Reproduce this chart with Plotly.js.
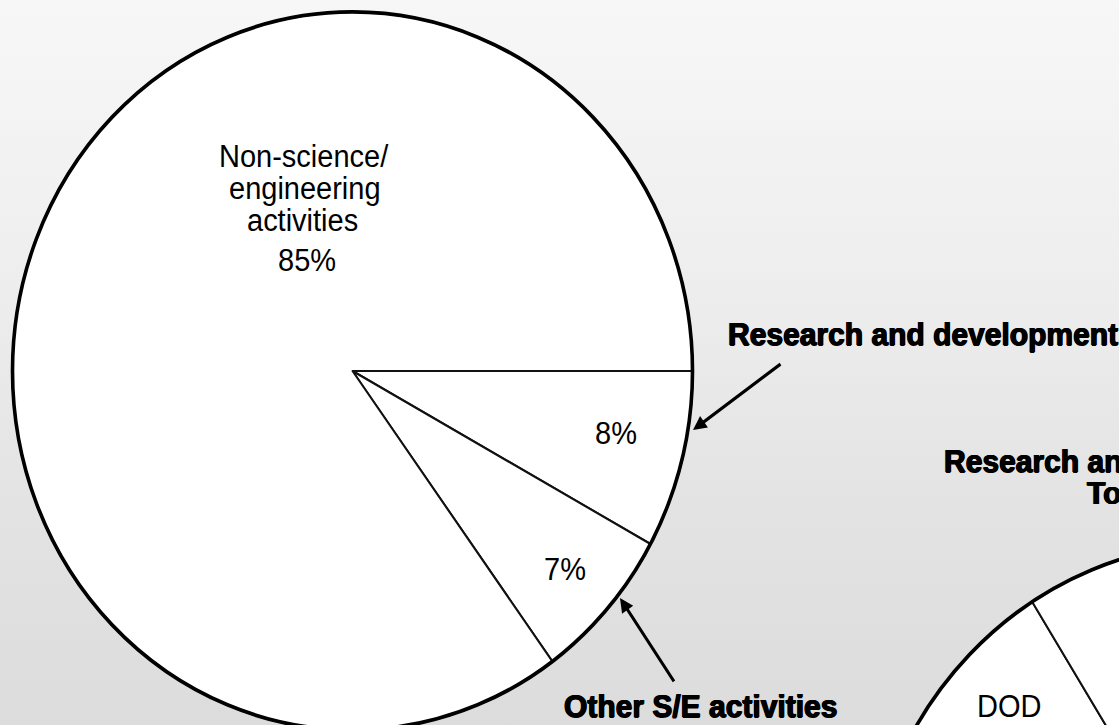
<!DOCTYPE html>
<html>
<head>
<meta charset="utf-8">
<script src="https://cdn.plot.ly/plotly-3.0.1.min.js"></script>
<style>
html, body { margin:0; padding:0; width:1119px; height:725px; overflow:hidden;
  background: linear-gradient(to bottom, #f7f7f7 0%, #efefef 35%, #e3e3e3 70%, #dcdcdc 100%); }
#chart { width:1600px; height:1250px; transform: scaleY(1.056); transform-origin: 0 0; }
</style>
</head>
<body>
<div id="chart"></div>
<script>
// ---- data ----
const seCategories = ["Research and development", "Other S/E activities", "Non-science/engineering activities"];
const seValues = [8, 7, 85];
const sePctText = ["8%", "7%", "85%"];
const nonSciLines = ["Non-science/", "engineering", "activities"];
const calloutLabels = ["Research and development", "Other S/E activities"];
const rdCategories = ["DOD", "All other agencies"];
const rdValues = [50, 50];
const rdTitleLines = ["Research and development:", "Total"];

// ---- geometry helpers (layout only) ----
const W = 1600, H = 1250, S = 1.056;
const px = x => x / W;
const py = yScreen => 1 - (yScreen / S) / H;
function dom(cx, cyScreen, r) {
  const cy = cyScreen / S;
  return { x: [(cx - r) / W, (cx + r) / W], y: [1 - (cy + r) / H, 1 - (cy - r) / H] };
}
const pie1Dom = dom(352.5, 371, 340);
const pie2Dom = dom(1224, 923.5, 360);
const rdBoundaryDeg = -32.2;
const sum = a => a.reduce((p, c) => p + c, 0);
const rdRotation = 360 + rdBoundaryDeg - 360 * rdValues[0] / sum(rdValues);

const sliceLine = { color: "#111", width: 2 };
const traces = [
  { type: "pie", labels: seCategories, values: seValues, sort: false, direction: "clockwise",
    rotation: 90, domain: pie1Dom, textinfo: "none", hoverinfo: "label+percent",
    marker: { colors: seCategories.map(() => "#ffffff"), line: sliceLine }, showlegend: false },
  { type: "pie", labels: ["All activities"], values: [sum(seValues)], sort: false, domain: pie1Dom,
    textinfo: "none", hoverinfo: "skip", marker: { colors: ["rgba(0,0,0,0)"], line: { color: "#000", width: 3.6 } },
    showlegend: false },
  { type: "pie", labels: rdCategories, values: rdValues, sort: false, direction: "clockwise",
    rotation: rdRotation, domain: pie2Dom, textinfo: "none", hoverinfo: "label+percent",
    marker: { colors: rdCategories.map(() => "#ffffff"), line: sliceLine }, showlegend: false },
  { type: "pie", labels: ["Total R&D"], values: [sum(rdValues)], sort: false, domain: pie2Dom,
    textinfo: "none", hoverinfo: "skip", marker: { colors: ["rgba(0,0,0,0)"], line: { color: "#000", width: 3.6 } },
    showlegend: false }
];

const reg = size => ({ family: "Liberation Sans, Arial, Helvetica, sans-serif", size: size, color: "#000" });
const bold = size => ({ family: "Liberation Sans, Arial, Helvetica, sans-serif", size: size, color: "#000",
  weight: 700, shadow: "0.7px 0 0 #000, -0.7px 0 0 #000, 0 0.7px 0 #000" });
function txt(text, xs, ys, font, anchor) {
  return { xref: "paper", yref: "paper", x: px(xs), y: py(ys), text: text, showarrow: false,
           xanchor: anchor || "center", yanchor: "middle", font: font };
}
function arrow(tipX, tipY, tailX, tailY) {
  return { xref: "paper", yref: "paper", x: px(tipX), y: py(tipY), text: "", showarrow: true,
           axref: "pixel", ayref: "pixel", ax: tailX - tipX, ay: (tailY - tipY) / S,
           arrowhead: 2, arrowsize: 0.9, arrowwidth: 3, arrowcolor: "#000", standoff: 0 };
}

const annotations = [
  txt(nonSciLines[0], 304, 156, reg(29)),
  txt(nonSciLines[1], 305, 187.6, reg(29)),
  txt(nonSciLines[2], 302, 221, reg(29)),
  txt(sePctText[2], 307, 261, reg(29)),
  txt(sePctText[0], 615.5, 433.3, reg(29)),
  txt(sePctText[1], 565, 569.3, reg(29)),
  txt(rdCategories[0], 1008.5, 706.3, reg(29)),
  txt(calloutLabels[0], 726, 334.3, bold(30), "left"),
  txt(calloutLabels[1], 562, 706.3, bold(30), "left"),
  txt(rdTitleLines[0], 942, 461.3, bold(30), "left"),
  txt(rdTitleLines[1], 1085, 492.3, bold(30), "left"),
  arrow(693, 430, 782, 363),
  arrow(620, 598, 675, 683)
];

const layout = {
  width: W, height: H, margin: { l: 0, r: 0, t: 0, b: 0, pad: 0 },
  paper_bgcolor: "rgba(0,0,0,0)", plot_bgcolor: "rgba(0,0,0,0)",
  showlegend: false, annotations: annotations
};
Plotly.newPlot("chart", traces, layout, { displayModeBar: false, staticPlot: true });
</script>
</body>
</html>
